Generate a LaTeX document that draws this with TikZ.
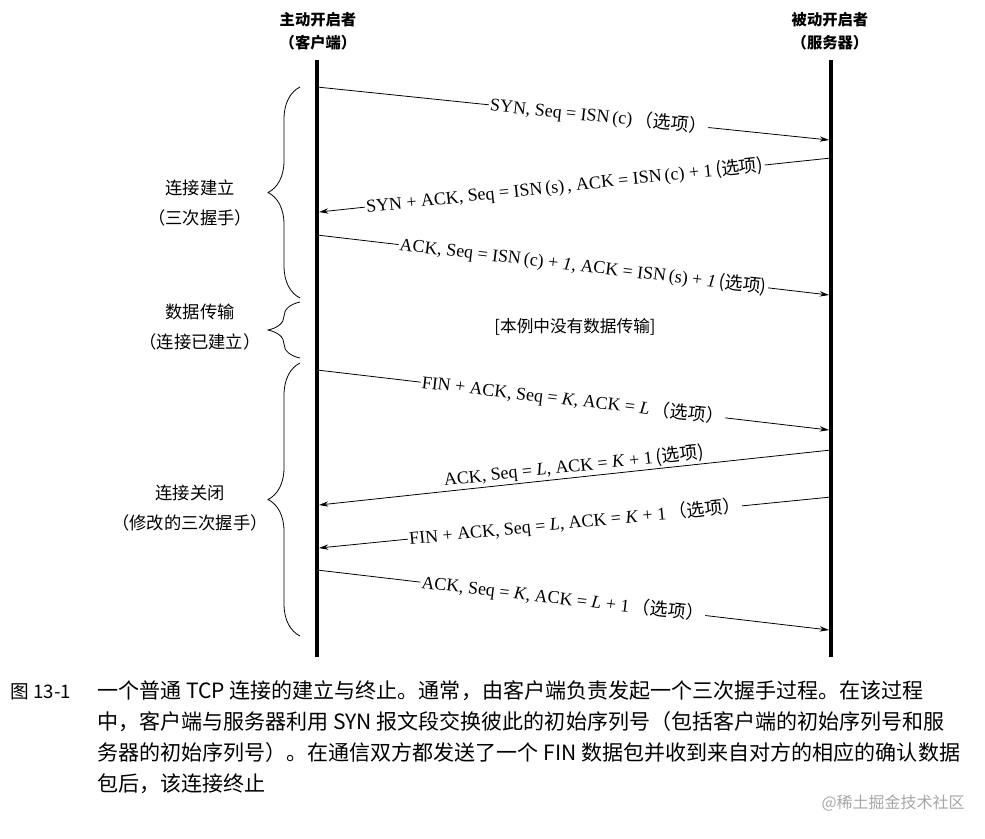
\documentclass[tikz,border=0pt]{standalone}
\usepackage{fontspec}
\setmainfont{Liberation Serif}
\newfontfamily\cj{Noto Sans CJK SC}
\usetikzlibrary{arrows.meta,decorations.pathreplacing}
\begin{document}
\begin{tikzpicture}[x=0.0264cm,y=-0.0264cm,
  life/.style={line width=2.6pt},
  msg/.style={-{Stealth[length=7pt,width=4pt]},line width=0.6pt},
  lab/.style={font=\fontsize{13.5}{15}\selectfont,sloped,inner sep=1pt},
  hdr/.style={font=\cj\bfseries\fontsize{11.5}{17}\selectfont,align=center},
  side/.style={font=\cj\fontsize{13}{22}\selectfont,align=center},
  br/.style={decorate,decoration={brace,amplitude=24pt,aspect=0.5,mirror},line width=0.6pt}]
\useasboundingbox (0,0) rectangle (985,838);
\node[hdr] (h1) at (318,31) {主动开启者\\（客户端）};
\node[hdr] (h2) at (830,31) {被动开启者\\（服务器）};
\coordinate (lt) at (317,60); \coordinate (lb) at (317,657);
\coordinate (rt) at (831,60); \coordinate (rb) at (831,657);
\draw[life] (lt) -- (lb); \draw[life] (rt) -- (rb);
\coordinate (a1) at (317,87);  \coordinate (b1) at (829,140);
\coordinate (a2) at (831,158); \coordinate (b2) at (319,212);
\coordinate (a3) at (317,235); \coordinate (b3) at (829,295);
\coordinate (a4) at (317,370); \coordinate (b4) at (829,430);
\coordinate (a5) at (831,450); \coordinate (b5) at (319,505);
\coordinate (a6) at (831,497); \coordinate (b6) at (319,548);
\coordinate (a7) at (317,570); \coordinate (b7) at (829,630);
\draw[msg] (a1) -- node[lab,pos=0.55,fill=white]{SYN, Seq = ISN\,(c)\,{\cj（选项）}} (b1);
\draw[msg] (a2) -- node[lab,pos=0.52,fill=white]{SYN + ACK, Seq = ISN\,(s)\,, ACK = ISN\,(c) + 1\,{\cj(选项)}} (b2);
\draw[msg] (a3) -- node[lab,pos=0.52,fill=white]{ACK, Seq = ISN\,(c) + \textit{1}, ACK = ISN\,(s) + \textit{1}\,{\cj(选项)}} (b3);
\node[font=\cj\fontsize{12.5}{14}\selectfont] (nd) at (575,327) {[本例中没有数据传输]};
\draw[msg] (a4) -- node[lab,pos=0.5,fill=white]{FIN + ACK, Seq = \textit{K}, ACK = \textit{L}\,{\cj（选项）}} (b4);
\draw[msg] (a5) -- node[lab,pos=0.5,above]{ACK, Seq = \textit{L}, ACK = \textit{K} + 1\,{\cj(选项)}} (b5);
\draw[msg] (a6) -- node[lab,pos=0.5,fill=white]{FIN + ACK, Seq = \textit{L}, ACK = \textit{K} + 1\,{\cj（选项）}} (b6);
\draw[msg] (a7) -- node[lab,pos=0.48,fill=white]{ACK, Seq = \textit{K}, ACK = \textit{L} + 1\,{\cj（选项）}} (b7);
\coordinate (c1t) at (300,87); \coordinate (c1b) at (300,298);
\coordinate (c2t) at (300,302); \coordinate (c2b) at (300,358);
\coordinate (c3t) at (300,363); \coordinate (c3b) at (300,636);
\draw[br] (c1t) -- (c1b);
\draw[br] (c2t) -- (c2b);
\draw[br] (c3t) -- (c3b);
\node[side] (s1) at (200,203) {连接建立\\（三次握手）};
\node[side] (s2) at (200,327) {数据传输\\（连接已建立）};
\node[side] (s3) at (190,508) {连接关闭\\（修改的三次握手）};
\node[font=\cj\fontsize{14}{16}\selectfont,anchor=west] (fig) at (6,692) {图 13-1};
\node[font=\cj\fontsize{15.8}{23.3}\selectfont,anchor=north west,align=left,inner sep=0] (cap) at (97,680)
{一个普通 TCP 连接的建立与终止。通常，由客户端负责发起一个三次握手过程。在该过程\\
中，客户端与服务器利用 SYN 报文段交换彼此的初始序列号（包括客户端的初始序列号和服\\
务器的初始序列号）。在通信双方都发送了一个 FIN 数据包并收到来自对方的相应的确认数据\\
包后，该连接终止};
\node[font=\cj\fontsize{12}{13}\selectfont,text=gray!70] (wm) at (893,803) {@稀土掘金技术社区};
\end{tikzpicture}
\end{document}
